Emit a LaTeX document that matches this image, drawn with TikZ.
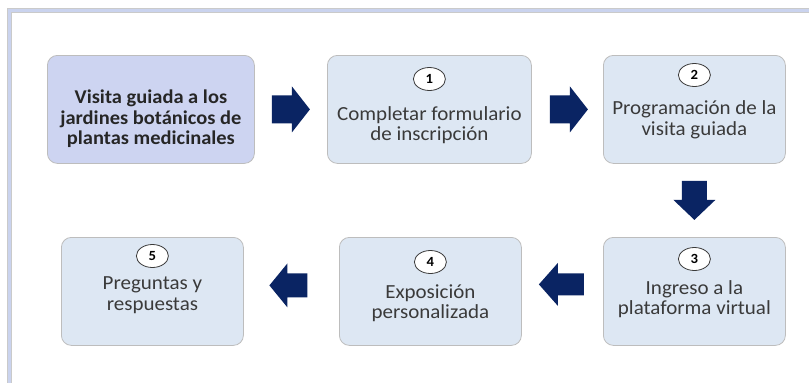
\documentclass[tikz,border=0pt]{standalone}
\usepackage{fontspec}
\setmainfont{Carlito}[FakeStretch=1.05]
\usetikzlibrary{calc,shapes.geometric}
\definecolor{boxfill}{HTML}{DDE7F3}
\definecolor{firstfill}{HTML}{CDD4F1}
\definecolor{boxline}{HTML}{BDBDBD}
\definecolor{arrowc}{HTML}{0A2463}
\definecolor{txt}{HTML}{3A3A3A}
\definecolor{framec}{HTML}{CAD3EE}
\newcommand\blockarrow[6]{%
  \fill[arrowc, shift={(#1)}, rotate=#2]
    ({-#3/2},{-#6/2}) -- ({#3/2-#4},{-#6/2}) -- ({#3/2-#4},{-#5/2}) --
    ({#3/2},0) -- ({#3/2-#4},{#5/2}) -- ({#3/2-#4},{#6/2}) --
    ({-#3/2},{#6/2}) -- cycle;}
\tikzset{
  stepbox/.style={draw=boxline, line width=0.8pt, fill=boxfill, rounded corners=10pt,
    minimum width=#1, minimum height=108pt, anchor=north west, inner sep=0pt},
  lbl/.style={align=center, text=txt, inner sep=0pt,
    font=\fontsize{20}{20.5}\selectfont},
  numc/.style={ellipse, draw=txt, line width=0.8pt, fill=white, minimum width=32pt,
    minimum height=23pt, inner sep=0pt, text=black, font=\fontsize{14}{14}\selectfont\bfseries},
}
\begin{document}
\begin{tikzpicture}[x=1pt,y=-1pt]
\useasboundingbox (0,0) rectangle (809,383);
\fill[white] (0,0) rectangle (809,383);
% frame
\draw[boxline!80, line width=5pt] (9,383) -- (9,10) -- (809,10);
\draw[framec, line width=3.5pt] (9.5,383) -- (9.5,10.5) -- (809,10.5);
% boxes
\node[stepbox=207pt, fill=firstfill] (b0) at (47,55) {};
\node[stepbox=204pt] (b1) at (327,55) {};
\node[stepbox=182pt] (b2) at (603,55) {};
\node[stepbox=182pt] (b3) at (603,237) {};
\node[stepbox=182pt] (b4) at (339,237) {};
\node[stepbox=182pt] (b5) at (61,237) {};
% texts
\node[lbl, text=black!85, font=\fontsize{19.5}{20.5}\selectfont\bfseries] (t0) at ($(b0.north)+(0,64)$) {Visita guiada a los\\jardines botánicos de\\plantas medicinales};
\node[numc] (n1) at ($(b1.north)+(0,24)$) {1};
\node[lbl] (t1) at ($(b1.north)+(0,70)$) {Completar formulario\\de inscripción};
\node[numc] (n2) at ($(b2.north)+(0,20)$) {2};
\node[lbl] (t2) at ($(b2.north)+(0,65)$) {Programación de la\\visita guiada};
\node[numc] (n3) at ($(b3.north)+(0,22)$) {3};
\node[lbl] (t3) at ($(b3.north)+(0,62)$) {Ingreso a la\\plataforma virtual};
\node[numc] (n4) at ($(b4.north)+(0,25)$) {4};
\node[lbl] (t4) at ($(b4.north)+(0,66)$) {Exposición\\personalizada};
\node[numc] (n5) at ($(b5.north)+(0,19)$) {5};
\node[lbl] (t5) at ($(b5.north)+(0,58)$) {Preguntas y\\respuestas};
% arrows
\coordinate (a01) at ($(b0.east)!0.5!(b1.west)$);
\coordinate (a12) at ($(b1.east)!0.5!(b2.west)+(1.5,0)$);
\coordinate (a23) at ($(b2.south)!0.5!(b3.north)$);
\coordinate (a34) at ($(b3.west)!0.5!(b4.east)+(-1,-7)$);
\coordinate (a45) at ($(b4.west)!0.5!(b5.east)+(-3,-6)$);
\blockarrow{a01}{0}{38}{18}{46}{28}
\blockarrow{a12}{0}{38}{18}{46}{28}
\blockarrow{a23}{-90}{39}{20}{42}{25}
\blockarrow{a34}{180}{45}{19}{43}{22}
\blockarrow{a45}{180}{38}{18}{44}{24}
\end{tikzpicture}
\end{document}
